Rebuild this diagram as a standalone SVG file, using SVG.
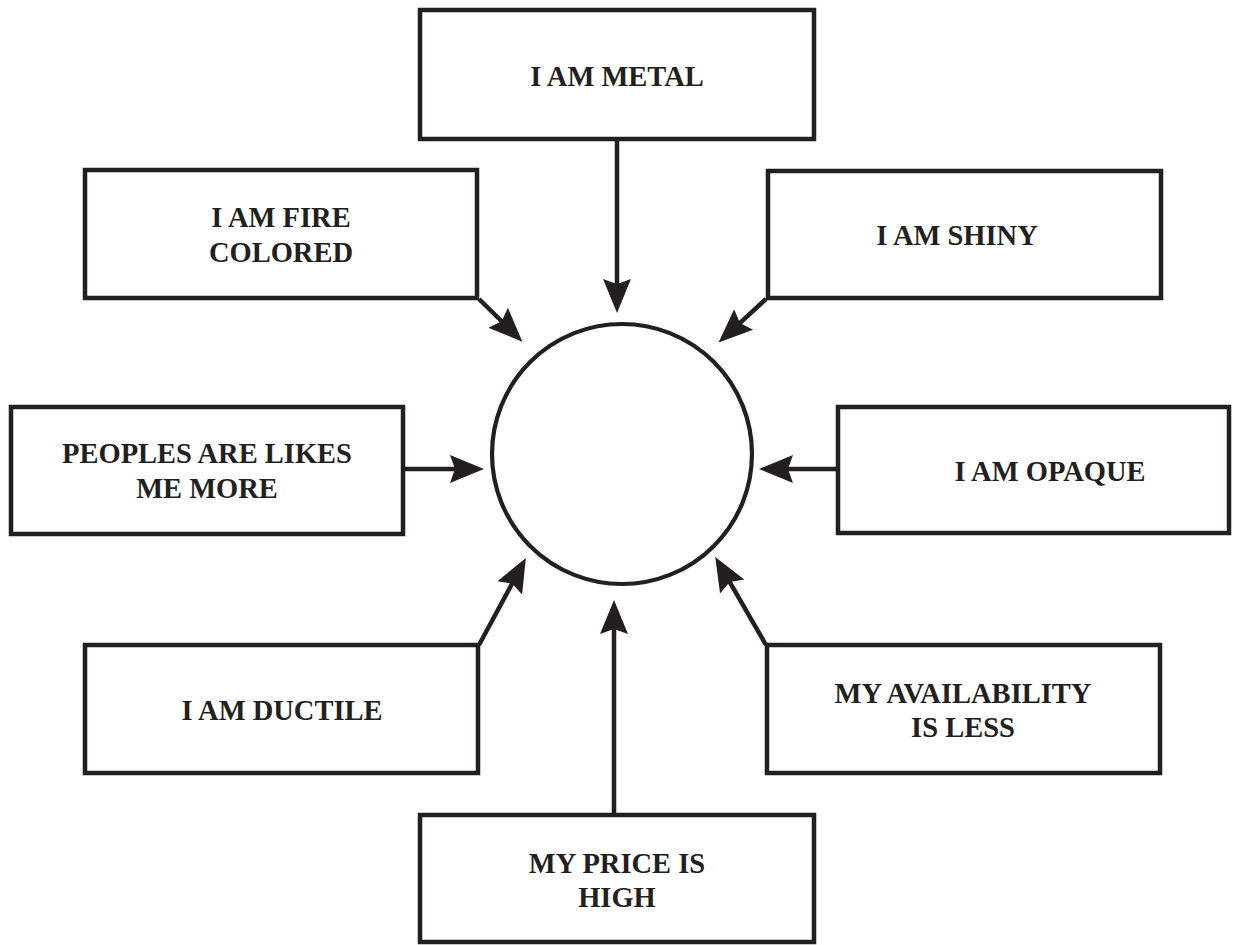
<svg xmlns="http://www.w3.org/2000/svg" width="1233" height="945" viewBox="0 0 1233 945">
  <style>
    .box { fill: #ffffff; stroke: #231f20; stroke-width: 4.5; }
    .hub { fill: #ffffff; stroke: #231f20; stroke-width: 4.2; }
    .lbl { font-family: "Liberation Serif", "Times New Roman", serif; font-weight: bold; font-size: 28.5px; fill: #231f20; text-anchor: middle; }
    .wire { stroke: #231f20; stroke-width: 4.5; fill: none; marker-end: url(#head); }
  </style>
  <defs>
    <marker id="head" markerUnits="userSpaceOnUse" markerWidth="36" markerHeight="30" viewBox="0 -15 36 30" refX="6" refY="0" orient="auto">
      <path d="M34,0 L0,-14 L5,0 L0,14 Z" fill="#231f20"/>
    </marker>
  </defs>
  <rect width="1233" height="945" fill="#ffffff"/>

  <!-- central circle -->
  <g id="hub">
    <circle class="hub" cx="622" cy="454" r="130"/>
  </g>

  <!-- connectors pointing into the circle -->
  <g id="connectors">
    <line class="wire" x1="617" y1="139" x2="617" y2="285"/>
    <line class="wire" x1="479" y1="299" x2="502.4" y2="322"/>
    <line class="wire" x1="766" y1="299" x2="739.2" y2="323.6"/>
    <line class="wire" x1="405" y1="469" x2="456" y2="469"/>
    <line class="wire" x1="836" y1="469" x2="787" y2="469"/>
    <line class="wire" x1="479" y1="645" x2="512.6" y2="582.6"/>
    <line class="wire" x1="766" y1="645" x2="729.2" y2="581.2"/>
    <line class="wire" x1="614" y1="815" x2="614" y2="628"/>
  </g>

  <g id="metal">
    <rect class="box" x="420" y="10" width="394" height="129"/>
    <text class="lbl" x="617" y="86">I AM METAL</text>
  </g>

  <g id="fire">
    <rect class="box" x="85" y="170" width="392" height="128"/>
    <text class="lbl" x="281" y="227">I AM FIRE</text>
    <text class="lbl" x="281" y="262">COLORED</text>
  </g>

  <g id="shiny">
    <rect class="box" x="768" y="171" width="393" height="127"/>
    <text class="lbl" x="957" y="245">I AM SHINY</text>
  </g>

  <g id="peoples">
    <rect class="box" x="11" y="407" width="392" height="127"/>
    <text class="lbl" x="207" y="463">PEOPLES ARE LIKES</text>
    <text class="lbl" x="207" y="498">ME MORE</text>
  </g>

  <g id="opaque">
    <rect class="box" x="838" y="407" width="391" height="126"/>
    <text class="lbl" x="1050" y="481">I AM OPAQUE</text>
  </g>

  <g id="ductile">
    <rect class="box" x="85" y="645" width="393" height="128"/>
    <text class="lbl" x="282" y="720">I AM DUCTILE</text>
  </g>

  <g id="availability">
    <rect class="box" x="767" y="645" width="393" height="128"/>
    <text class="lbl" x="963" y="703">MY AVAILABILITY</text>
    <text class="lbl" x="963" y="737">IS LESS</text>
  </g>

  <g id="price">
    <rect class="box" x="420" y="815" width="394" height="127"/>
    <text class="lbl" x="617" y="873">MY PRICE IS</text>
    <text class="lbl" x="617" y="907">HIGH</text>
  </g>
</svg>
